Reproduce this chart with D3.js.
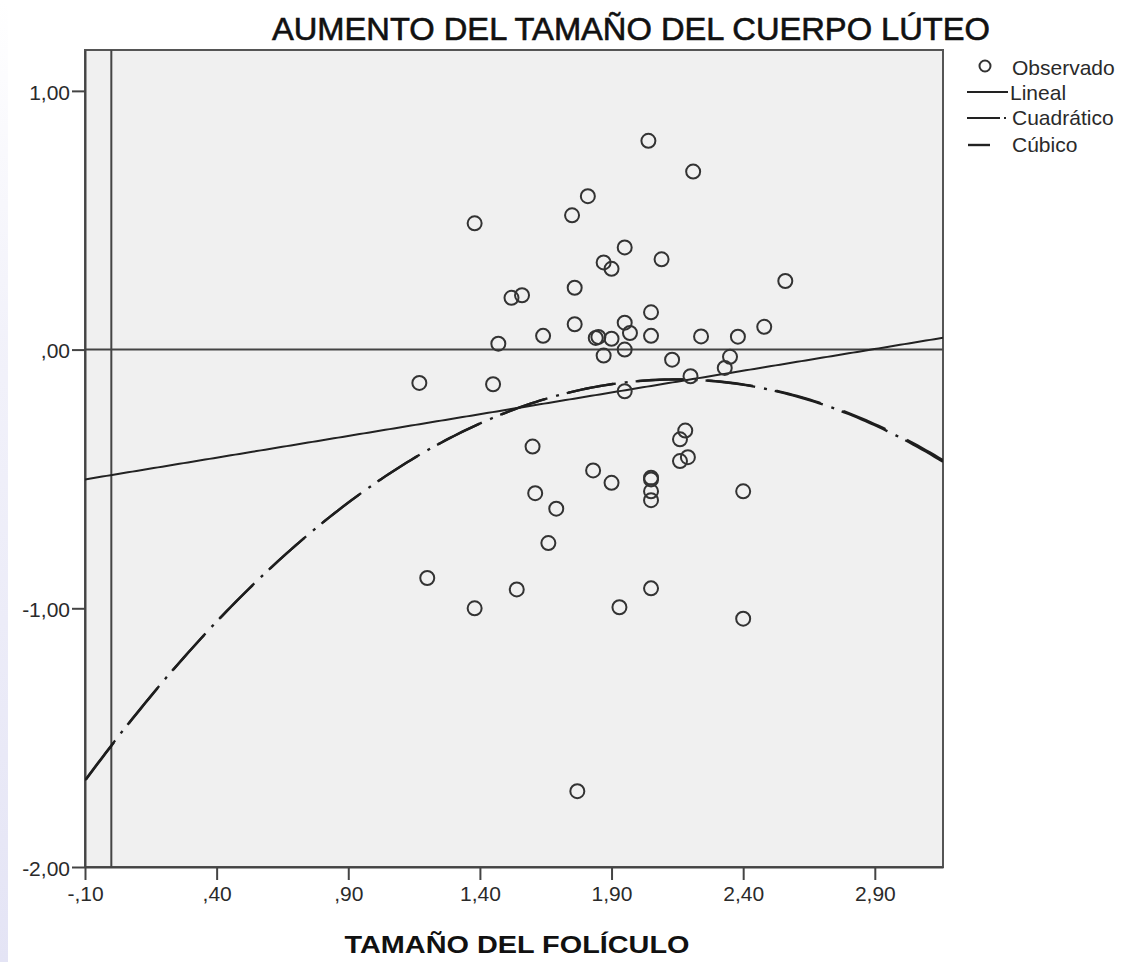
<!DOCTYPE html>
<html>
<head>
<meta charset="utf-8">
<script src="https://cdn.jsdelivr.net/npm/d3@7"></script>
<style>
  html, body { margin: 0; padding: 0; background: #fff; }
  svg { display: block; font-family: Arial, "Liberation Sans", sans-serif; }
</style>
</head>
<body>
<svg id="chart" width="1126" height="962"></svg>
<script>
// Observed values: follicle size vs. corpus luteum size increase
const folliculo = [2.04, 2.21, 1.81, 1.75, 1.38, 1.95, 1.87, 1.90, 2.09, 2.56,
  1.76, 1.52, 1.56, 1.76, 1.95, 2.05, 2.48, 1.64, 1.84, 1.85,
  1.90, 1.97, 2.05, 2.24, 2.38, 1.47, 1.87, 1.95, 2.13, 2.35,
  2.33, 2.20, 1.95, 1.17, 1.45, 2.18, 2.16, 2.19, 2.16, 1.60,
  1.83, 1.90, 2.05, 2.05, 2.05, 2.05, 2.40, 1.61, 1.69, 1.66,
  1.20, 1.38, 1.54, 1.93, 2.05, 2.40, 1.77];
const cuerpoLuteo = [0.807, 0.688, 0.593, 0.519, 0.488, 0.395, 0.337, 0.312, 0.349, 0.265,
  0.239, 0.200, 0.210, 0.098, 0.104, 0.144, 0.088, 0.053, 0.045, 0.049,
  0.042, 0.064, 0.053, 0.051, 0.050, 0.023, -0.023, 0.000, -0.039, -0.028,
  -0.071, -0.103, -0.161, -0.129, -0.134, -0.313, -0.347, -0.416, -0.431, -0.375,
  -0.467, -0.515, -0.495, -0.502, -0.548, -0.582, -0.548, -0.555, -0.615, -0.748,
  -0.883, -1.000, -0.927, -0.996, -0.923, -1.040, -1.707];

// Fitted model coefficients (constant, x, x², x³)
const coefLineal = [-0.485, 0.168];
const coefCuadratico = [-1.53, 1.32, -0.308];
const coefCubico = [-1.532, 1.324, -0.311, 0.0008];

// Axis ticks
const xTicks = [-0.10, 0.40, 0.90, 1.40, 1.90, 2.40, 2.90];
const yTicks = [-2, -1, 0, 1];

const legendLabels = ["Observado", "Lineal", "Cuadrático", "Cúbico"];

const svg = d3.select("#chart");

// soft tint along the left edge of the page
const defs = svg.append("defs");
const grad = defs.append("linearGradient").attr("id", "edgeTint")
  .attr("x1", 0).attr("y1", 0).attr("x2", 0).attr("y2", 1);
grad.append("stop").attr("offset", "0%").attr("stop-color", "#e9e9f7").attr("stop-opacity", 0);
grad.append("stop").attr("offset", "35%").attr("stop-color", "#e9e9f7").attr("stop-opacity", 0.6);
grad.append("stop").attr("offset", "100%").attr("stop-color", "#e4e4f5").attr("stop-opacity", 1);
svg.append("rect").attr("x", 0).attr("y", 0).attr("width", 8).attr("height", 962)
  .attr("fill", "url(#edgeTint)");

const plot = { left: 85, right: 943, top: 50, bottom: 867 };

const x = d3.scaleLinear().domain([-0.10, 3.159]).range([plot.left, plot.right]);
const y = d3.scaleLinear().domain([-2, 1.158]).range([plot.bottom, plot.top]);

const fmt = d => {
  let s = d3.format(".2f")(Math.abs(d)).replace(".", ",");
  if (s.startsWith("0,")) s = s.slice(1);
  return (d < 0 ? "-" : "") + s;
};

// plot area
svg.append("rect")
  .attr("x", plot.left).attr("y", plot.top)
  .attr("width", plot.right - plot.left).attr("height", plot.bottom - plot.top)
  .attr("fill", "#f0f0f0").attr("stroke", "#555").attr("stroke-width", 2);

// reference lines at zero
svg.append("line")
  .attr("x1", plot.left).attr("x2", plot.right)
  .attr("y1", y(0)).attr("y2", y(0))
  .attr("stroke", "#444").attr("stroke-width", 2);
svg.append("line")
  .attr("x1", x(0)).attr("x2", x(0))
  .attr("y1", plot.top).attr("y2", plot.bottom)
  .attr("stroke", "#444").attr("stroke-width", 2);

// axes
const xAxis = svg.append("g")
  .attr("transform", `translate(0,${plot.bottom})`)
  .call(d3.axisBottom(x).tickValues(xTicks).tickFormat(fmt).tickSize(13).tickSizeOuter(0));
const yAxis = svg.append("g")
  .attr("transform", `translate(${plot.left},0)`)
  .call(d3.axisLeft(y).tickValues(yTicks).tickFormat(fmt).tickSize(13).tickSizeOuter(0));
[xAxis, yAxis].forEach(g => {
  g.select(".domain").attr("stroke", "#444").attr("stroke-width", 2);
  g.selectAll(".tick line").attr("stroke", "#444").attr("stroke-width", 2);
  g.selectAll(".tick text").attr("fill", "#2a2a2a").style("font-size", "21px")
    .style("font-family", "Arial, 'Liberation Sans', sans-serif");
});
xAxis.selectAll(".tick text").attr("y", 19).attr("dy", "0.71em");
yAxis.selectAll(".tick text").attr("x", -15).attr("dy", "0.4em");

// fitted curves
const clip = defs.append("clipPath").attr("id", "plotClip");
clip.append("rect").attr("x", plot.left).attr("y", plot.top)
  .attr("width", plot.right - plot.left).attr("height", plot.bottom - plot.top);

const xs = d3.range(0, 201).map(i => x.domain()[0] + (x.domain()[1] - x.domain()[0]) * i / 200);
const poly = c => v => c.reduce((s, k, i) => s + k * Math.pow(v, i), 0);
const lineGen = f => d3.line().x(v => x(v)).y(v => y(f(v)));

const curves = svg.append("g").attr("clip-path", "url(#plotClip)");
curves.append("path").attr("d", lineGen(poly(coefLineal))(xs))
  .attr("fill", "none").attr("stroke", "#222").attr("stroke-width", 2);
// both curves share one 70px dash period so their gaps stay aligned
curves.append("path").attr("d", lineGen(poly(coefCuadratico))(xs))
  .attr("fill", "none").attr("stroke", "#1e1e1e").attr("stroke-width", 2.4)
  .attr("stroke-dasharray", "50,9,3,8");
curves.append("path").attr("d", lineGen(poly(coefCubico))(xs))
  .attr("fill", "none").attr("stroke", "#1e1e1e").attr("stroke-width", 2.4)
  .attr("stroke-dasharray", "46,24").attr("stroke-dashoffset", -2);

// observed points
svg.append("g").selectAll("circle")
  .data(d3.zip(folliculo, cuerpoLuteo))
  .join("circle")
  .attr("cx", d => x(d[0])).attr("cy", d => y(d[1]))
  .attr("r", 7)
  .attr("fill", "none").attr("stroke", "#333").attr("stroke-width", 2);

// title and axis label
svg.append("text")
  .attr("x", 631).attr("y", 40).attr("text-anchor", "middle")
  .attr("textLength", 718).attr("lengthAdjust", "spacingAndGlyphs")
  .style("font-size", "31px").attr("fill", "#111")
  .attr("stroke", "#111").attr("stroke-width", 0.6)
  .text("AUMENTO DEL TAMAÑO DEL CUERPO LÚTEO");
svg.append("text")
  .attr("x", 517).attr("y", 953).attr("text-anchor", "middle")
  .attr("textLength", 345).attr("lengthAdjust", "spacingAndGlyphs")
  .style("font-size", "23px").style("font-weight", "bold").attr("fill", "#111")
  .text("TAMAÑO DEL FOLÍCULO");

// legend
const lg = svg.append("g").style("font-size", "21px").attr("fill", "#2a2a2a");
lg.append("circle").attr("cx", 985).attr("cy", 66).attr("r", 5.5)
  .attr("fill", "none").attr("stroke", "#333").attr("stroke-width", 2);
lg.append("line").attr("x1", 967).attr("x2", 1008).attr("y1", 92).attr("y2", 92)
  .attr("stroke", "#222").attr("stroke-width", 2.2);
lg.append("line").attr("x1", 967).attr("x2", 1006).attr("y1", 118).attr("y2", 118)
  .attr("stroke", "#222").attr("stroke-width", 2.2).attr("stroke-dasharray", "33,4,2,10");
lg.append("line").attr("x1", 968).attr("x2", 990).attr("y1", 145).attr("y2", 145)
  .attr("stroke", "#222").attr("stroke-width", 2.4);
const legendPos = [[1012, 75], [1010, 100], [1012, 125], [1012, 152]];
legendLabels.forEach((t, i) => {
  lg.append("text").attr("x", legendPos[i][0]).attr("y", legendPos[i][1]).text(t);
});
</script>
</body>
</html>
